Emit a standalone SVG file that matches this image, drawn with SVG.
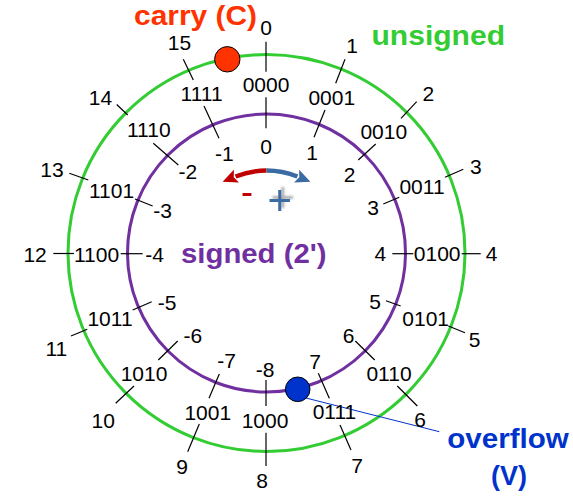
<svg xmlns="http://www.w3.org/2000/svg" width="573" height="499" viewBox="0 0 573 499">
<style>
.lbl{font-family:"Liberation Sans",Arial,sans-serif;font-size:21px;fill:#000;text-anchor:middle}
.ttl{font-family:"Liberation Sans",Arial,sans-serif;font-size:27px;font-weight:bold}
.tick{stroke:#000;stroke-width:1.2;fill:none}
</style>
<defs>
<marker id="ahR" markerUnits="userSpaceOnUse" markerWidth="16" markerHeight="14" refX="1" refY="7" orient="auto" viewBox="0 0 16 14"><path d="M0,0 L15,7 L0,14 L3,7 z" fill="#c00000"/></marker>
<marker id="ahB" markerUnits="userSpaceOnUse" markerWidth="16" markerHeight="14" refX="1" refY="7" orient="auto" viewBox="0 0 16 14"><path d="M0,0 L15,7 L0,14 L3,7 z" fill="#3a6ca3"/></marker>
<filter id="sh" x="-50%" y="-50%" width="200%" height="200%"><feDropShadow dx="3" dy="-3" stdDeviation="1" flood-color="#999999" flood-opacity="0.8"/></filter>
</defs>
<rect width="573" height="499" fill="#fff"/>
<g id="rings">
<circle cx="266.5" cy="253" r="198.5" fill="none" stroke="#33cc33" stroke-width="3"/>
<circle cx="266.5" cy="253" r="139" fill="none" stroke="#7030a0" stroke-width="3"/>
</g>
<g id="connectors">
<line class="tick" x1="266" y1="41.7" x2="266" y2="71.7"/>
<line class="tick" x1="345" y1="59.3" x2="335.7" y2="83.3"/>
<line class="tick" x1="416.7" y1="101.7" x2="401" y2="118.3"/>
<line class="tick" x1="463.3" y1="169.3" x2="445" y2="177.3"/>
<line class="tick" x1="461.7" y1="253.7" x2="480.7" y2="253.7"/>
<line class="tick" x1="448.3" y1="326" x2="465" y2="332.7"/>
<line class="tick" x1="397.3" y1="386" x2="417.3" y2="406"/>
<line class="tick" x1="340" y1="425" x2="351" y2="450"/>
<line class="tick" x1="266" y1="432.7" x2="266" y2="466"/>
<line class="tick" x1="187.7" y1="451.7" x2="199.3" y2="424"/>
<line class="tick" x1="115.7" y1="403.3" x2="134" y2="386"/>
<line class="tick" x1="71" y1="336" x2="87.3" y2="329.3"/>
<line class="tick" x1="53.3" y1="253.5" x2="74" y2="253.5"/>
<line class="tick" x1="69.3" y1="173.3" x2="88.3" y2="180"/>
<line class="tick" x1="116.7" y1="104.5" x2="127.7" y2="115"/>
<line class="tick" x1="183.3" y1="59.3" x2="193.3" y2="80"/>
<line class="tick" x1="266" y1="97.3" x2="266" y2="128.3"/>
<line class="tick" x1="325" y1="110" x2="314" y2="137.3"/>
<line class="tick" x1="375.7" y1="144" x2="358.3" y2="160"/>
<line class="tick" x1="399.3" y1="197.3" x2="383.3" y2="204"/>
<line class="tick" x1="392.3" y1="253.7" x2="413.3" y2="253.7"/>
<line class="tick" x1="386" y1="300.7" x2="400.7" y2="306"/>
<line class="tick" x1="374.7" y1="360" x2="355.3" y2="341"/>
<line class="tick" x1="318.3" y1="373.3" x2="329.3" y2="398.3"/>
<line class="tick" x1="266" y1="380" x2="266" y2="406"/>
<line class="tick" x1="209" y1="398.3" x2="219.3" y2="374"/>
<line class="tick" x1="158.3" y1="360" x2="177.7" y2="341"/>
<line class="tick" x1="132.7" y1="310" x2="151.7" y2="301.7"/>
<line class="tick" x1="120.7" y1="253.7" x2="142.7" y2="253.7"/>
<line class="tick" x1="135" y1="199" x2="152.7" y2="206"/>
<line class="tick" x1="153.3" y1="143.3" x2="178.3" y2="165"/>
<line class="tick" x1="204" y1="106" x2="219" y2="138.3"/>
<line x1="300" y1="396.5" x2="439.3" y2="431.7" stroke="#0033cc" stroke-width="1"/>
<path d="M266.5,170.5 A82.5,82.5 0 0 0 235.6,176.5" fill="none" stroke="#c00000" stroke-width="4.5" marker-end="url(#ahR)"/>
<path d="M266.5,170.5 A82.5,82.5 0 0 1 297.4,176.5" fill="none" stroke="#3a6ca3" stroke-width="4.5" marker-end="url(#ahB)"/>
</g>
<g id="pos0"><text class="lbl" x="266" y="35">0</text><text class="lbl" x="266" y="91.7">0000</text><text class="lbl" x="266" y="154.2">0</text></g>
<g id="pos1"><text class="lbl" x="352.1" y="53.3">1</text><text class="lbl" x="331.8" y="105">0001</text><text class="lbl" x="312.1" y="160">1</text></g>
<g id="pos2"><text class="lbl" x="428.3" y="101.2">2</text><text class="lbl" x="383.8" y="138.5">0010</text><text class="lbl" x="349.5" y="181.7">2</text></g>
<g id="pos3"><text class="lbl" x="475.8" y="173.8">3</text><text class="lbl" x="422" y="194.2">0011</text><text class="lbl" x="373.2" y="215.3">3</text></g>
<g id="pos4"><text class="lbl" x="491.7" y="261.2">4</text><text class="lbl" x="437.2" y="261.2">0100</text><text class="lbl" x="380.3" y="261.2">4</text></g>
<g id="pos5"><text class="lbl" x="474.7" y="347.2">5</text><text class="lbl" x="425.7" y="325.8">0101</text><text class="lbl" x="375" y="308.5">5</text></g>
<g id="pos6"><text class="lbl" x="420" y="426.7">6</text><text class="lbl" x="389" y="380.5">0110</text><text class="lbl" x="348.7" y="343.2">6</text></g>
<g id="pos7"><text class="lbl" x="357" y="473.3">7</text><text class="lbl" x="334.5" y="419.2">0111</text><text class="lbl" x="315" y="369.2">7</text></g>
<g id="pos8"><text class="lbl" x="262" y="487.5">8</text><text class="lbl" x="265" y="427.5">1000</text><text class="lbl" x="265" y="377">-8</text></g>
<g id="pos9"><text class="lbl" x="182" y="473.7">9</text><text class="lbl" x="207.8" y="419.5">1001</text><text class="lbl" x="226.7" y="368">-7</text></g>
<g id="pos10"><text class="lbl" x="103.2" y="428">10</text><text class="lbl" x="144" y="381.3">1010</text><text class="lbl" x="192.8" y="343.3">-6</text></g>
<g id="pos11"><text class="lbl" x="56.3" y="355.5">11</text><text class="lbl" x="110" y="326.2">1011</text><text class="lbl" x="167.2" y="309.7">-5</text></g>
<g id="pos12"><text class="lbl" x="35.1" y="262.2">12</text><text class="lbl" x="96.5" y="262.2">1100</text><text class="lbl" x="154.5" y="262.2">-4</text></g>
<g id="pos13"><text class="lbl" x="51.9" y="177">13</text><text class="lbl" x="111.6" y="198.3">1101</text><text class="lbl" x="162.7" y="218.2">-3</text></g>
<g id="pos14"><text class="lbl" x="100.4" y="105">14</text><text class="lbl" x="148.8" y="136.7">1110</text><text class="lbl" x="187.8" y="178.5">-2</text></g>
<g id="pos15"><text class="lbl" x="179.4" y="50.3">15</text><text class="lbl" x="201.6" y="101.3">1111</text><text class="lbl" x="224.3" y="160.5">-1</text></g>
<g id="carry"><circle cx="227.3" cy="59.3" r="12.7" fill="#ff3300" stroke="#000" stroke-width="1"/><text class="ttl" x="134" y="25" fill="#ff3300" textLength="123" lengthAdjust="spacingAndGlyphs">carry (C)</text></g>
<g id="overflow"><circle cx="297.7" cy="389.3" r="12.3" fill="#0033cc" stroke="#000" stroke-width="1"/><text class="ttl" x="447.3" y="448" fill="#0033cc" textLength="121.5" lengthAdjust="spacingAndGlyphs">overflow</text><text class="ttl" x="509" y="485" fill="#0033cc" text-anchor="middle">(V)</text></g>
<g id="unsigned"><text class="ttl" x="371.5" y="45" fill="#33cc33" textLength="133.5" lengthAdjust="spacingAndGlyphs">unsigned</text></g>
<g id="signed"><text class="ttl" x="181" y="263.3" fill="#7030a0" textLength="145.5" lengthAdjust="spacingAndGlyphs">signed (2')</text></g>
<g id="signs">
<text x="247" y="204.2" text-anchor="middle" font-family="Liberation Sans, Arial, sans-serif" font-size="36" fill="#c00000">-</text>
<text x="279.7" y="214.7" text-anchor="middle" font-family="Liberation Sans, Arial, sans-serif" font-size="42" fill="#3a6ca3" filter="url(#sh)">+</text>
</g>
</svg>
